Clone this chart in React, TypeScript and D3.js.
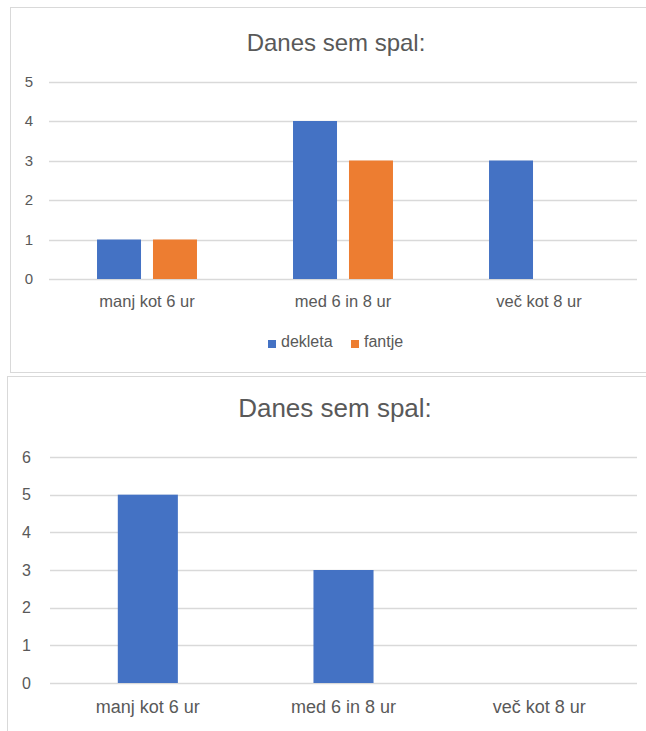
import React from "react";
import * as d3 from "d3";

const categories = ["manj kot 6 ur", "med 6 in 8 ur", "več kot 8 ur"];
const seriesNames = ["dekleta", "fantje"];
const dekleta = [1, 4, 3];
const fantje = [1, 3, 0];
const chart2Values = [5, 3, 0];
const yTicks1 = [0, 1, 2, 3, 4, 5];
const yTicks2 = [0, 1, 2, 3, 4, 5, 6];
const titleText = "Danes sem spal:";

const BLUE = "#4472C4";
const ORANGE = "#ED7D31";
const GRID = "#d9d9d9";
const TEXT = "#595959";
const FONT = "'Liberation Sans', Arial, sans-serif";

function TopChart() {
  const x = d3.scaleBand<string>().domain(categories).range([49, 637]).paddingInner(0.49).paddingOuter(0.245);
  const inner = d3.scaleBand<string>().domain(seriesNames).range([0, x.bandwidth()]).paddingInner(0.214);
  const y = d3.scaleLinear().domain([0, 5]).range([279, 81.5]);
  const series = [dekleta, fantje];
  const colors = [BLUE, ORANGE];
  const step = x.step();
  return (
    <g>
      <rect x={10.5} y={7.5} width={700} height={365} fill="#fff" stroke={GRID} strokeWidth={1} />
      <text x={336} y={51} textAnchor="middle" fontFamily={FONT} fontSize={24} fill={TEXT}>{titleText}</text>
      {yTicks1.map((t) => (
        <g key={t}>
          <line x1={49} x2={637} y1={Math.round(y(t)) + 0.5} y2={Math.round(y(t)) + 0.5} stroke={GRID} strokeWidth={1.3} />
          <text x={33} y={y(t) + 5} textAnchor="end" fontFamily={FONT} fontSize={15} fill={TEXT}>{t}</text>
        </g>
      ))}
      {series.map((vals, si) =>
        vals.map((v, ci) =>
          v > 0 ? (
            <rect key={`${si}-${ci}`} x={(x(categories[ci]) ?? 0) + (inner(seriesNames[si]) ?? 0)} y={y(v)} width={inner.bandwidth()} height={y(0) - y(v)} fill={colors[si]} />
          ) : null
        )
      )}
      {categories.map((c) => (
        <text key={c} x={(x(c) ?? 0) + x.bandwidth() / 2} y={307} textAnchor="middle" fontFamily={FONT} fontSize={16.5} fill={TEXT}>{c}</text>
      ))}
      <g>
        <rect x={268} y={340} width={8} height={8} fill={BLUE} />
        <text x={281} y={347} fontFamily={FONT} fontSize={16} fill={TEXT}>{seriesNames[0]}</text>
        <rect x={351} y={340} width={8} height={8} fill={ORANGE} />
        <text x={364} y={347} fontFamily={FONT} fontSize={16} fill={TEXT}>{seriesNames[1]}</text>
      </g>
    </g>
  );
}

function BottomChart() {
  const x = d3.scaleBand<string>().domain(categories).range([50, 637]).paddingInner(0.693).paddingOuter(0.3465);
  const y = d3.scaleLinear().domain([0, 6]).range([683, 457]);
  return (
    <g>
      <rect x={7.5} y={376.5} width={700} height={400} fill="#fff" stroke={GRID} strokeWidth={1} />
      <text x={335} y={417} textAnchor="middle" fontFamily={FONT} fontSize={26} fill={TEXT}>{titleText}</text>
      {yTicks2.map((t) => (
        <g key={t}>
          <line x1={50} x2={637} y1={Math.round(y(t)) + 0.5} y2={Math.round(y(t)) + 0.5} stroke={GRID} strokeWidth={1.3} />
          <text x={31} y={y(t) + 5.5} textAnchor="end" fontFamily={FONT} fontSize={16} fill={TEXT}>{t}</text>
        </g>
      ))}
      {chart2Values.map((v, ci) =>
        v > 0 ? (
          <rect key={ci} x={x(categories[ci]) ?? 0} y={y(v)} width={x.bandwidth()} height={y(0) - y(v)} fill={BLUE} />
        ) : null
      )}
      {categories.map((c) => (
        <text key={c} x={(x(c) ?? 0) + x.bandwidth() / 2} y={713} textAnchor="middle" fontFamily={FONT} fontSize={18} fill={TEXT}>{c}</text>
      ))}
    </g>
  );
}

export default function App() {
  return (
    <svg width={646} height={731} style={{ position: "absolute", left: 0, top: 0, background: "#fff" }}>
      <rect x={0} y={0} width={646} height={731} fill="#fff" />
      <TopChart />
      <BottomChart />
    </svg>
  );
}
